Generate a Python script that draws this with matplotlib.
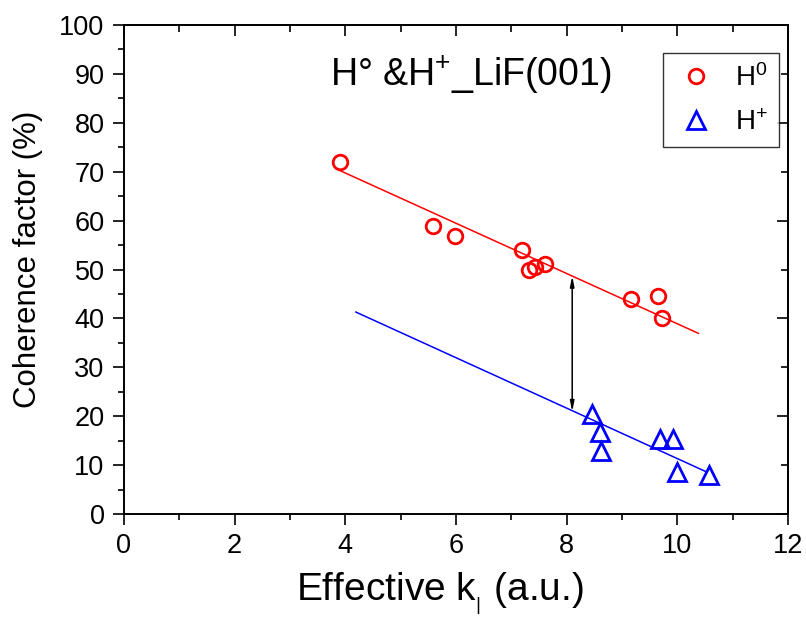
import numpy as np
import matplotlib
matplotlib.use('Agg')
import matplotlib.pyplot as plt

plt.rcParams['font.family'] = ['Liberation Sans', 'DejaVu Sans']
plt.rcParams['mathtext.fontset'] = 'custom'
plt.rcParams['mathtext.rm'] = 'Liberation Sans'
plt.rcParams['mathtext.it'] = 'Liberation Sans:italic'

# H0 data (red circles)
h0_k = [3.90, 5.58, 5.99, 7.19, 7.32, 7.43, 7.61, 9.16, 9.65, 9.73]
h0_cf = [72.0, 58.9, 56.9, 54.0, 50.0, 50.6, 51.1, 44.0, 44.6, 40.0]
# H+ data (blue triangles)
hp_k = [8.45, 8.60, 8.62, 9.69, 9.93, 9.99, 10.57]
hp_cf = [20.4, 16.8, 12.9, 15.3, 15.3, 8.6, 7.9]
# linear fits (end points)
h0_fit_k = [3.89, 10.38]
h0_fit_cf = [70.3, 36.95]
hp_fit_k = [4.19, 10.52]
hp_fit_cf = [41.3, 8.65]
# double arrow between the fits
arrow_k = 8.10
arrow_cf = [48.7, 20.9]

fig = plt.figure(figsize=(8.06, 6.19), dpi=100)
ax = fig.add_axes([0.1538, 0.1696, 0.8239, 0.79])

ax.plot(h0_fit_k, h0_fit_cf, color='red', lw=1.1)
ax.plot(hp_fit_k, hp_fit_cf, color='blue', lw=1.1)
ax.plot(h0_k, h0_cf, 'o', mfc='none', mec='red', mew=2, ms=10.5, label='H$^0$')
ax.plot(hp_k, hp_cf, '^', mfc='none', mec='blue', mew=2, ms=13, label='H$^{+}$')

ax.annotate('', xy=(arrow_k, arrow_cf[0]), xytext=(arrow_k, arrow_cf[1]),
            arrowprops=dict(arrowstyle='<|-|>,head_length=0.6,head_width=0.12',
                            color='black', lw=1.1, shrinkA=0, shrinkB=0))

ax.text(3.72, 87.5, 'H\u00b0 &H$^{+}$_LiF(001)', fontsize=27, va='baseline')

ax.set_xlim(0, 12)
ax.set_ylim(0, 100)
ax.set_xticks(np.arange(0, 13, 2))
ax.set_xticks(np.arange(0, 13, 1), minor=True)
ax.set_yticks(np.arange(0, 101, 10))
ax.set_yticks(np.arange(0, 101, 5), minor=True)
ax.tick_params(which='major', direction='out', length=8, width=1.2, labelsize=19.5, pad=6)
ax.tick_params(which='minor', direction='out', length=4, width=1.2)
for s in ax.spines.values():
    s.set_linewidth(1.4)

# top and right axes with inward ticks
top = ax.secondary_xaxis('top')
top.set_xticks(np.arange(0, 13, 2))
top.set_xticks(np.arange(0, 13, 1), minor=True)
top.tick_params(which='major', direction='in', length=8, width=1.2, labeltop=False)
top.tick_params(which='minor', direction='in', length=5, width=1.2)
right = ax.secondary_yaxis('right')
right.set_yticks(np.arange(0, 101, 20))
right.set_yticks(np.arange(10, 101, 20), minor=True)
right.tick_params(which='major', direction='in', length=8, width=1.2, labelright=False)
right.tick_params(which='minor', direction='in', length=5, width=1.2)
top.spines['top'].set_linewidth(1.4)
right.spines['right'].set_linewidth(1.4)

ax.set_xlabel('Effective k$_{_{|}}$ (a.u.)', fontsize=28)
ax.xaxis.set_label_coords(0.476, -0.115)
ax.set_ylabel('Coherence factor (%)', fontsize=22.5)
ax.yaxis.set_label_coords(-0.122, 0.52)

leg = ax.legend(loc='upper right', bbox_to_anchor=(0.986, 0.943), fontsize=20,
                frameon=True, fancybox=False, edgecolor='black', handlelength=1.6,
                handletextpad=0.6, borderpad=0.4, labelspacing=0.65, borderaxespad=0)
leg.get_frame().set_linewidth(1.0)

fig.savefig('out.png', dpi=100)
